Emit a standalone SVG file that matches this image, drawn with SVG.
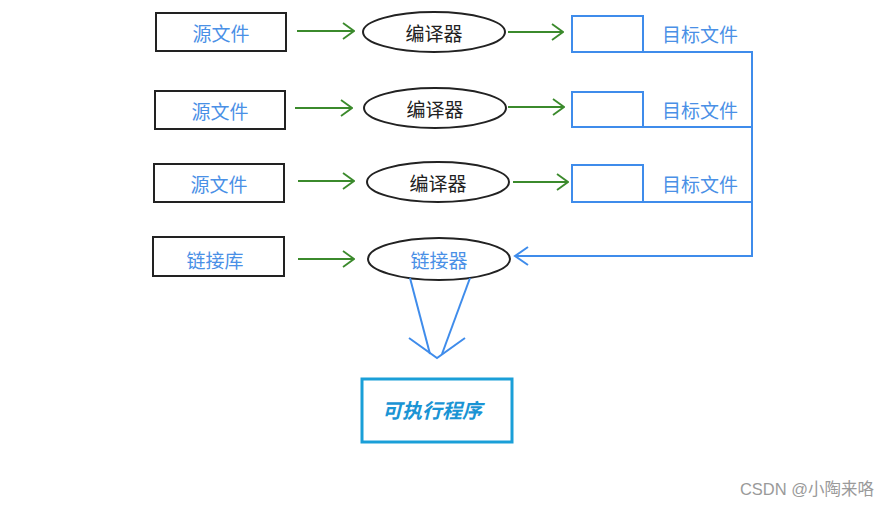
<svg xmlns="http://www.w3.org/2000/svg" width="890" height="507" viewBox="0 0 890 507">
<style>
.box{fill:#fff;stroke:#222;stroke-width:2}
.ell{fill:#fff;stroke:#222;stroke-width:2}
.tbox{fill:#fff;stroke:#3f8ceb;stroke-width:2}
.g{stroke:#3b8a2c;stroke-width:2;fill:none}
.b{stroke:#3f8ceb;stroke-width:2;fill:none}
.t{font-family:"Noto Sans CJK SC","Noto Sans",sans-serif;font-size:19px;text-anchor:middle;dominant-baseline:central}
.blue{fill:#4a90e6}
.dark{fill:#222}
</style>
<defs>
<marker id="ah" viewBox="0 0 14 18" refX="13" refY="9" markerWidth="14" markerHeight="18" markerUnits="userSpaceOnUse" orient="auto">
<path d="M2,1 L13,9 L2,17" fill="none" stroke="#3b8a2c" stroke-width="1.8"/>
</marker>
</defs>
<rect width="890" height="507" fill="#fff"/>
<g id="src1"><rect class="box" x="156" y="13" width="130" height="38"/><text class="t blue" x="221" y="32">源文件</text></g>
<g id="src2"><rect class="box" x="155" y="91" width="130" height="38"/><text class="t blue" x="220" y="110">源文件</text></g>
<g id="src3"><rect class="box" x="154" y="164" width="130" height="38"/><text class="t blue" x="219" y="183">源文件</text></g>
<g id="lib"><rect class="box" x="153" y="237" width="131" height="39"/><text class="t blue" x="215" y="259">链接库</text></g>
<g id="cc1"><ellipse class="ell" cx="434" cy="32" rx="71" ry="20"/><text class="t dark" x="434" y="32">编译器</text></g>
<g id="cc2"><ellipse class="ell" cx="435" cy="108" rx="71" ry="20"/><text class="t dark" x="435" y="108">编译器</text></g>
<g id="cc3"><ellipse class="ell" cx="438" cy="182" rx="71" ry="20"/><text class="t dark" x="438" y="182">编译器</text></g>
<g id="linker"><ellipse class="ell" cx="439" cy="259" rx="71" ry="21"/><text class="t blue" x="439" y="259">链接器</text></g>
<g id="obj1"><rect class="tbox" x="572" y="16" width="71" height="36"/><text class="t blue" x="700" y="33">目标文件</text></g>
<g id="obj2"><rect class="tbox" x="572" y="92" width="71" height="35"/><text class="t blue" x="700" y="109">目标文件</text></g>
<g id="obj3"><rect class="tbox" x="572" y="165" width="71" height="37"/><text class="t blue" x="700" y="183">目标文件</text></g>
<g id="exe"><rect x="362" y="379" width="150" height="63" fill="#fff" stroke="#1a9fd8" stroke-width="3"/><text x="432" y="411" font-family="Liberation Serif,'Noto Sans CJK SC',serif" font-size="20" font-style="italic" font-weight="bold" fill="#1a94d4" text-anchor="middle" dominant-baseline="central">可执行程序</text></g>
<g id="connectors">
<line class="g" x1="297" y1="31" x2="354" y2="31" marker-end="url(#ah)"/>
<line class="g" x1="295" y1="108" x2="352" y2="108" marker-end="url(#ah)"/>
<line class="g" x1="298" y1="181" x2="354" y2="181" marker-end="url(#ah)"/>
<line class="g" x1="298" y1="259" x2="354" y2="259" marker-end="url(#ah)"/>
<line class="g" x1="508" y1="32" x2="563" y2="32" marker-end="url(#ah)"/>
<line class="g" x1="508" y1="107" x2="564" y2="107" marker-end="url(#ah)"/>
<line class="g" x1="513" y1="182" x2="568" y2="182" marker-end="url(#ah)"/>
<polyline class="b" points="643,52 752,52 752,256 515,256"/>
<line class="b" x1="643" y1="127" x2="752" y2="127"/>
<line class="b" x1="643" y1="202" x2="752" y2="202"/>
<polyline class="b" points="528,247 515,256 528,265"/>
<line class="b" x1="410" y1="278" x2="430" y2="354"/>
<line class="b" x1="470" y1="278" x2="442" y2="354"/>
<polyline class="b" points="409,338 437,358 465,338"/>
</g>
<text x="807" y="489" font-family="Liberation Sans,'Noto Sans CJK SC',sans-serif" font-size="16.5" fill="#9a9a9a" text-anchor="middle" dominant-baseline="central">CSDN @小陶来咯</text>
</svg>
